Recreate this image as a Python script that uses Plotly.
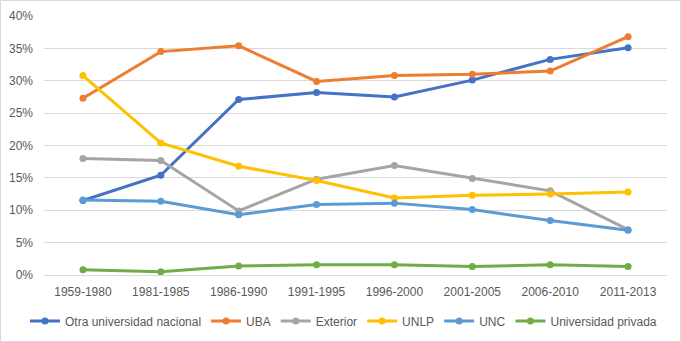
import plotly.graph_objects as go

categories = ["1959-1980", "1981-1985", "1986-1990", "1991-1995", "1996-2000", "2001-2005", "2006-2010", "2011-2013"]
otra_nacional = [11.5, 15.4, 27.1, 28.2, 27.5, 30.1, 33.3, 35.1]
uba = [27.3, 34.5, 35.4, 29.9, 30.8, 31.0, 31.5, 36.8]
exterior = [18.0, 17.7, 9.9, 14.8, 16.9, 14.9, 13.0, 7.0]
unlp = [30.8, 20.4, 16.8, 14.6, 11.9, 12.3, 12.5, 12.8]
unc = [11.6, 11.4, 9.3, 10.9, 11.1, 10.1, 8.4, 6.9]
privada = [0.8, 0.5, 1.4, 1.6, 1.6, 1.3, 1.6, 1.3]

series = [
    ("Otra universidad nacional", otra_nacional, "#4472C4"),
    ("UBA", uba, "#ED7D31"),
    ("Exterior", exterior, "#A5A5A5"),
    ("UNLP", unlp, "#FFC000"),
    ("UNC", unc, "#5B9BD5"),
    ("Universidad privada", privada, "#70AD47"),
]

W, H = 681, 342
ml, mr, mt, mb = 44, 14, 16, 67
pw, ph = W - ml - mr, H - mt - mb

fig = go.Figure()
for name, vals, col in series:
    fig.add_trace(go.Scatter(
        x=categories, y=[v / 100 for v in vals], name=name,
        mode="lines+markers",
        line=dict(color=col, width=3),
        marker=dict(color=col, size=7),
    ))

font = dict(family="Liberation Sans, Arial, sans-serif", size=12, color="#595959")
fig.update_layout(
    width=W, height=H,
    margin=dict(l=ml, r=mr, t=mt, b=mb, autoexpand=False),
    paper_bgcolor="white", plot_bgcolor="white",
    font=font,
    showlegend=True,
    legend=dict(orientation="h", x=(25 - ml) / pw, xanchor="left",
                y=-(321 - 275) / ph, yanchor="middle",
                font=font, itemwidth=30, tracegroupgap=0),
    xaxis=dict(range=[-0.5, 7.5], showgrid=False, showline=True, linecolor="#D9D9D9", linewidth=1,
               ticks="", tickfont=font, fixedrange=True, automargin=False,
               ticklabelstandoff=6),
    yaxis=dict(range=[0, 0.4], dtick=0.05, tickformat=".0%", showgrid=True, gridcolor="#D9D9D9",
               gridwidth=1, zeroline=False, showline=False, ticks="", tickfont=font,
               ticklabelstandoff=10, automargin=False),
    shapes=[dict(type="rect", xref="paper", yref="paper",
                 x0=(-ml + 0.5) / pw, x1=(pw + mr - 0.5) / pw,
                 y0=(-mb + 0.5) / ph, y1=(ph + mt - 0.5) / ph,
                 line=dict(color="#D9D9D9", width=1), layer="below")],
)
fig.write_html("out.html", config={"displayModeBar": False},
               post_script="document.body.style.margin='0';document.body.style.overflow='hidden';")
